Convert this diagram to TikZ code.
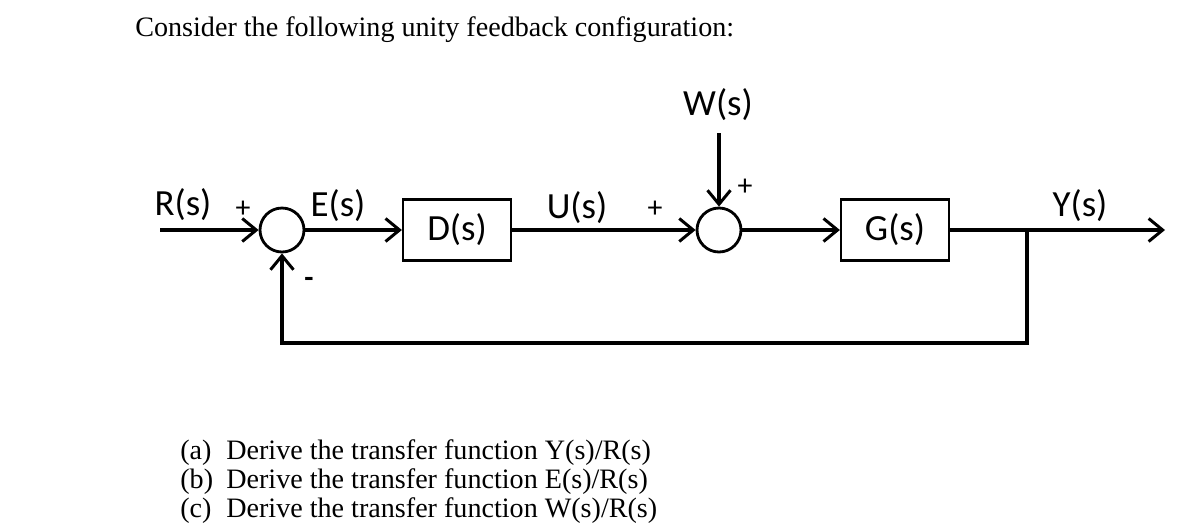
\documentclass[tikz,border=0pt]{standalone}
\usepackage{fontspec}
\setmainfont{Liberation Serif}
\newfontfamily\calibri{Carlito}
\usetikzlibrary{arrows.meta, positioning, calc}

\begin{document}
\begin{tikzpicture}[
            x=0.02cm, y=-0.02cm,
            block/.style={rectangle, draw, line width=1.3pt, minimum height=1.22cm, minimum width=2.16cm, font=\calibri\fontsize{21}{24}\selectfont},
            sum/.style={circle, draw, line width=1.6pt, minimum size=0.88cm, inner sep=0pt},
            lbl/.style={font=\calibri\fontsize{21}{24}\selectfont, inner sep=0pt},
            sgn/.style={font=\calibri\fontsize{17}{20}\selectfont, inner sep=0pt},
            sig/.style={line width=1.8pt, -{Straight Barb[length=2.8mm, width=4.6mm, line width=1.7pt]}},
            txt/.style={font=\fontsize{16}{19}\selectfont, inner sep=0pt, anchor=west}
        ]

        \useasboundingbox (0,0) rectangle (1200,525);

        \node[txt] (intro) at (135,30) {Consider the following unity feedback configuration:};

        \node[sum] (sum1) at (282,230) {};
        \node[block] (dblock) at (457,230) {D(s)};
        \node[sum] (sum2) at (719,230) {};
        \node[block] (gblock) at (895,230) {G(s)};

        \coordinate (rin) at (160,230);
        \coordinate (win) at (719,133);
        \coordinate (branch) at (1027,230);
        \coordinate (yout) at (1165,230);
        \coordinate (fbl) at (282,343);

        \draw[sig] (rin) -- (sum1);
        \draw[sig] (sum1) -- (dblock);
        \draw[sig] (dblock) -- (sum2);
        \draw[sig] (win) -- (sum2);
        \draw[sig] (sum2) -- (gblock);
        \draw[sig] (gblock) -- (yout);
        \draw[sig] (branch) |- (fbl) -- (sum1);

        \node[lbl] (rlbl) at (183,205) {R(s)};
        \node[sgn] (rplus) at (243,209) {+};
        \node[lbl] (elbl) at (338,206) {E(s)};
        \node[sgn] (fbminus) at (309,282) {\textbf{-}};
        \node[lbl] (ulbl) at (577,208) {U(s)};
        \node[sgn] (uplus) at (655,209) {+};
        \node[lbl] (wlbl) at (718,105) {W(s)};
        \node[sgn] (wplus) at (745,187) {+};
        \node[lbl] (ylbl) at (1080,206) {Y(s)};

        \node[txt] (qa) at (180,453) {\makebox[0.92cm][l]{(a)}Derive the transfer function Y(s)/R(s)};
        \node[txt] (qb) at (180,482) {\makebox[0.92cm][l]{(b)}Derive the transfer function E(s)/R(s)};
        \node[txt] (qc) at (180,511) {\makebox[0.92cm][l]{(c)}Derive the transfer function W(s)/R(s)};

    \end{tikzpicture}
\end{document}
